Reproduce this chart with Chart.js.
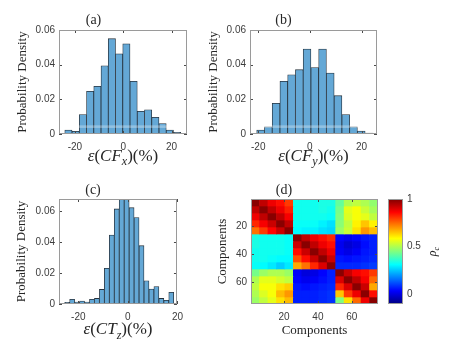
<!DOCTYPE html>
<html lang="en">
<head>
<meta charset="UTF-8">
<title>Error histograms and component correlation</title>
<script src="https://cdn.jsdelivr.net/npm/chart.js@4.4.1/dist/chart.umd.min.js"></script>
<style>
    body { margin: 0; background: #fff; }
    #wrap { position: relative; width: 458px; height: 352px; overflow: hidden; }
    canvas { position: absolute; }
</style>
</head>
<body>
<div id="wrap">
    <canvas id="chartA" width="190" height="170" style="left:0;top:0"></canvas>
    <canvas id="chartB" width="268" height="170" style="left:190px;top:0"></canvas>
    <canvas id="chartC" width="190" height="182" style="left:0;top:170px"></canvas>
    <canvas id="chartD" width="200" height="182" style="left:190px;top:170px"></canvas>
    <canvas id="chartBar" width="78" height="182" style="left:380px;top:170px"></canvas>
</div>
<script>
    // ---- data ----
    const binsA = [-22.7, -19.7, -16.7, -13.7, -10.7, -7.7, -4.7, -1.7, 1.3, 4.3, 7.3, 10.3, 13.3, 16.3, 19.3, 22.3];
    const densA = [0.0023, 0.0015, 0.0112, 0.0246, 0.0275, 0.0394, 0.0550, 0.0463, 0.0520, 0.0304, 0.0131, 0.0140, 0.0096, 0.0060, 0.0023, 0.0010];

    const binsB = [-19.1, -16.1, -13.1, -10.1, -7.1, -4.1, -1.1, 1.9, 4.9, 7.9, 10.9, 13.9, 16.9, 19.9, 22.9];
    const densB = [0.0023, 0.0042, 0.0177, 0.0304, 0.0342, 0.0371, 0.0490, 0.0383, 0.0490, 0.0352, 0.0221, 0.0112, 0.0042, 0.0017, 0.0006];

    const binsC = [-24.5, -22.5, -20.5, -18.5, -16.5, -14.5, -12.5, -10.5, -8.5, -6.5, -4.5, -2.5, -0.5, 1.5, 3.5, 5.5, 7.5, 9.5, 11.5, 13.5, 15.5, 17.5];
    const densC = [0.0011, 0.0030, 0.0013, 0.0019, 0.0013, 0.0030, 0.0036, 0.0094, 0.0230, 0.0445, 0.0613, 0.0673, 0.0677, 0.0621, 0.0557, 0.0376, 0.0150, 0.0097, 0.0112, 0.0036, 0.0024, 0.0075];

    const histXTicks = [-20, 0, 20];
    const histYTicks = [0, 0.02, 0.04, 0.06];

    // correlation map, averaged over 5x5 component blocks (75 components)
    const blockCenters = [3, 8, 13, 18, 23, 28, 33, 38, 43, 48, 53, 58, 63, 68, 73];
    const blockEdges = [0.5, 5.5, 10.5, 15.5, 20.5, 25.5, 30.5, 35.5, 40.5, 45.5, 50.5, 55.5, 60.5, 65.5, 70.5, 75.5];
    const corr = [
        [0.99, 0.93, 0.88, 0.85, 0.80, 0.33, 0.33, 0.33, 0.34, 0.34, 0.42, 0.50, 0.52, 0.50, 0.47],
        [0.93, 0.99, 0.93, 0.88, 0.83, 0.33, 0.33, 0.33, 0.34, 0.33, 0.44, 0.56, 0.58, 0.53, 0.49],
        [0.88, 0.93, 0.99, 0.93, 0.87, 0.33, 0.33, 0.33, 0.33, 0.32, 0.45, 0.55, 0.58, 0.56, 0.52],
        [0.82, 0.87, 0.92, 0.99, 0.93, 0.32, 0.32, 0.32, 0.30, 0.28, 0.46, 0.52, 0.60, 0.65, 0.60],
        [0.74, 0.80, 0.86, 0.92, 0.99, 0.31, 0.30, 0.30, 0.28, 0.27, 0.48, 0.53, 0.62, 0.70, 0.66],
        [0.34, 0.33, 0.33, 0.33, 0.32, 0.99, 0.93, 0.88, 0.85, 0.82, 0.04, 0.02, 0.04, 0.06, 0.07],
        [0.34, 0.33, 0.33, 0.33, 0.32, 0.92, 0.99, 0.93, 0.88, 0.85, 0.02, -0.01, 0.01, 0.05, 0.07],
        [0.33, 0.33, 0.33, 0.33, 0.32, 0.85, 0.92, 0.99, 0.93, 0.88, 0.03, 0.01, 0.03, 0.06, 0.07],
        [0.33, 0.33, 0.32, 0.31, 0.31, 0.78, 0.85, 0.92, 0.99, 0.92, 0.06, 0.05, 0.06, 0.07, 0.08],
        [0.32, 0.31, 0.29, 0.26, 0.29, 0.68, 0.74, 0.82, 0.90, 0.99, 0.08, 0.08, 0.08, 0.09, 0.10],
        [0.44, 0.48, 0.50, 0.50, 0.48, 0.03, 0.00, 0.01, 0.04, 0.07, 0.99, 0.92, 0.87, 0.85, 0.80],
        [0.50, 0.56, 0.56, 0.54, 0.52, 0.04, 0.02, 0.03, 0.05, 0.07, 0.90, 0.99, 0.93, 0.87, 0.75],
        [0.52, 0.58, 0.58, 0.62, 0.64, 0.06, 0.05, 0.06, 0.07, 0.08, 0.82, 0.90, 0.99, 0.92, 0.68],
        [0.50, 0.55, 0.58, 0.66, 0.70, 0.07, 0.07, 0.07, 0.08, 0.09, 0.65, 0.80, 0.88, 0.99, 0.85],
        [0.48, 0.52, 0.56, 0.62, 0.66, 0.07, 0.07, 0.07, 0.08, 0.09, 0.45, 0.62, 0.75, 0.88, 0.99]
    ];
    const mapTicks = [20, 40, 60];
    const cbTicks = [0, 0.5, 1];
    const cbMin = -0.1, cbMax = 1;

    // ---- look ----
    const serif = '"Liberation Serif", "Times New Roman", serif';
    const sans = '"Liberation Sans", Arial, sans-serif';
    const tickFont = { family: sans, size: 10 };
    const tickColor = '#3c3c3c';
    const textColor = '#262626';
    const barFill = 'rgb(100,168,214)';
    const barEdge = '#27323c';
    const noGrid = { display: false, drawTicks: false };

    function jet(t) {
        t = Math.max(0, Math.min(1, t));
        const c = v => Math.round(255 * Math.max(0, Math.min(1, v)));
        return `rgb(${c(1.5 - Math.abs(4 * t - 3))},${c(1.5 - Math.abs(4 * t - 2))},${c(1.5 - Math.abs(4 * t - 1))})`;
    }
    const rhoColor = v => jet((v - cbMin) / (cbMax - cbMin));

    // draws "ε(CF_x)(%)"-style labels with italic parts and a subscript
    function drawMath(ctx, parts, cx, cy, size, rot) {
        ctx.save();
        ctx.translate(cx, cy);
        if (rot) ctx.rotate(rot);
        ctx.textBaseline = 'middle';
        ctx.textAlign = 'left';
        ctx.fillStyle = textColor;
        const fontFor = s => (s === 'r' ? '' : 'italic ') + (s === 's' ? Math.round(size * 0.7) : size) + 'px ' + serif;
        let w = 0;
        parts.forEach(([t, s]) => { ctx.font = fontFor(s); w += ctx.measureText(t).width; });
        let x = -w / 2;
        parts.forEach(([t, s]) => {
            ctx.font = fontFor(s);
            ctx.fillText(t, x, s === 's' ? size * 0.32 : 0);
            x += ctx.measureText(t).width;
        });
        ctx.restore();
    }

    // MATLAB-like box with inward ticks, plus the math x label
    const boxPlugin = {
        id: 'box',
        afterDatasetsDraw(chart, args, opts) {
            const { ctx, chartArea: a, scales } = chart;
            ctx.save();
            if (opts.band) {
                const y1 = scales.y.getPixelForValue(opts.band[0]);
                const y2 = scales.y.getPixelForValue(opts.band[1]);
                ctx.fillStyle = 'rgba(255,255,255,0.3)';
                ctx.fillRect(a.left, y2, a.width, y1 - y2);
            }
            ctx.strokeStyle = '#4a4a4a';
            ctx.lineWidth = 1;
            if (opts.ticks !== false) {
                ctx.beginPath();
                if (scales.x && scales.x.options.display !== false) {
                    scales.x.ticks.forEach(t => {
                        const px = Math.round(scales.x.getPixelForValue(t.value)) + 0.5;
                        ctx.moveTo(px, a.bottom); ctx.lineTo(px, a.bottom - 3);
                        ctx.moveTo(px, a.top); ctx.lineTo(px, a.top + 3);
                    });
                }
                scales.y.ticks.forEach(t => {
                    const py = Math.round(scales.y.getPixelForValue(t.value)) + 0.5;
                    ctx.moveTo(a.left, py); ctx.lineTo(a.left + 3, py);
                    ctx.moveTo(a.right, py); ctx.lineTo(a.right - 3, py);
                });
                ctx.stroke();
            }
            ctx.strokeStyle = '#9a9a9a';
            ctx.strokeRect(Math.round(a.left) + 0.5, Math.round(a.top) + 0.5, Math.round(a.width) - 1, Math.round(a.height) - 1);
            ctx.restore();
            if (opts.xLabel) drawMath(ctx, opts.xLabel, (a.left + a.right) / 2, a.bottom + opts.xLabelGap, 17);
            if (opts.sideLabel) drawMath(ctx, opts.sideLabel, a.right + opts.sideGap, (a.top + a.bottom) / 2, 12, -Math.PI / 2);
        }
    };

    const fixTicks = list => scale => { scale.ticks = list.map(v => ({ value: v })); };

    function histChart(id, title, bins, dens, xMin, xMax, yMax, xLabel, g) {
        return new Chart(document.getElementById(id), {
            type: 'bar',
            data: {
                datasets: [{
                    data: bins.map((b, i) => ({ x: b, y: dens[i] })),
                    backgroundColor: barFill,
                    borderColor: barEdge,
                    borderWidth: 0.8,
                    borderSkipped: false,
                    barPercentage: 1,
                    categoryPercentage: 1
                }]
            },
            options: {
                responsive: false,
                animation: false,
                devicePixelRatio: 1,
                layout: { padding: g.pad },
                plugins: {
                    legend: { display: false },
                    tooltip: { enabled: false },
                    title: {
                        display: true, text: title, color: textColor,
                        font: { family: serif, size: 14, lineHeight: 1, weight: 'normal' },
                        padding: { top: g.titleTop, bottom: g.titleBottom }
                    },
                    box: { xLabel: xLabel, xLabelGap: g.xGap, band: g.band }
                },
                scales: {
                    x: {
                        type: 'linear', min: xMin, max: xMax, offset: false,
                        grid: noGrid, border: { display: false },
                        afterBuildTicks: fixTicks(histXTicks),
                        afterFit: s => { s.height = 22; },
                        ticks: { font: tickFont, color: tickColor, padding: 7, maxRotation: 0 }
                    },
                    y: {
                        min: 0, max: yMax,
                        grid: noGrid, border: { display: false },
                        afterBuildTicks: fixTicks(histYTicks),
                        afterFit: s => { s.width = g.yw; },
                        ticks: { font: tickFont, color: tickColor, padding: 4, callback: v => v === 0 ? '0' : v.toFixed(2) },
                        title: {
                            display: true, text: 'Probability Density', color: textColor,
                            font: { family: serif, size: 13 }, padding: { top: g.yPad, bottom: 0 }
                        }
                    }
                }
            },
            plugins: [boxPlugin]
        });
    }

    histChart('chartA', '(a)', binsA, densA, -26.6, 26.4, 0.06,
        [['ε', 'i'], ['(', 'r'], ['CF', 'i'], ['x', 's'], [')(%)', 'r']],
        { pad: { left: 0, top: 0, right: 3, bottom: 14 }, titleTop: 13, titleBottom: 3, yw: 59, yPad: 15, xGap: 22.5, band: [0.0035, 0.005] });

    histChart('chartB', '(b)', binsB, densB, -23.2, 26, 0.06,
        [['ε', 'i'], ['(', 'r'], ['CF', 'i'], ['y', 's'], [')(%)', 'r']],
        { pad: { left: 0, top: 0, right: 81, bottom: 14 }, titleTop: 13, titleBottom: 3, yw: 60, yPad: 16, xGap: 22.5, band: [0.0035, 0.005] });

    histChart('chartC', '(c)', binsC, densC, -27.8, 19.8, 0.0677,
        [['ε', 'i'], ['(', 'r'], ['CT', 'i'], ['z', 's'], [')(%)', 'r']],
        { pad: { left: 0, top: 0, right: 4, bottom: 26 }, titleTop: 13, titleBottom: 2, yw: 59, yPad: 14, xGap: 26 });

    // correlation map: one floating-bar dataset per block row
    const mapSets = corr.map((row, r) => ({
        data: row.map((v, c) => ({ x: blockCenters[c], y: [blockEdges[r], blockEdges[r + 1]] })),
        backgroundColor: row.map(rhoColor),
        borderWidth: 0,
        grouped: false,
        barPercentage: 1,
        categoryPercentage: 1
    }));

    new Chart(document.getElementById('chartD'), {
        type: 'bar',
        data: { datasets: mapSets },
        options: {
            responsive: false,
            animation: false,
            devicePixelRatio: 1,
            layout: { padding: { left: 0, top: 0, right: 12, bottom: 8 } },
            plugins: {
                legend: { display: false },
                tooltip: { enabled: false },
                title: {
                    display: true, text: '(d)', color: textColor,
                    font: { family: serif, size: 14, lineHeight: 1, weight: 'normal' },
                    padding: { top: 13, bottom: 2 }
                },
                box: {}
            },
            scales: {
                x: {
                    type: 'linear', min: 0.5, max: 75.5, offset: false,
                    grid: noGrid, border: { display: false },
                    afterBuildTicks: fixTicks(mapTicks),
                    afterFit: s => { s.height = 40; },
                    ticks: { font: tickFont, color: tickColor, padding: 7, maxRotation: 0 },
                    title: {
                        display: true, text: 'Components', color: textColor,
                        font: { family: serif, size: 13 }, padding: { top: 0, bottom: 6 }
                    }
                },
                y: {
                    type: 'linear', min: 0.5, max: 75.5, reverse: true,
                    grid: noGrid, border: { display: false },
                    afterBuildTicks: fixTicks(mapTicks),
                    afterFit: s => { s.width = 61; },
                    ticks: { font: tickFont, color: tickColor, padding: 4 },
                    title: {
                        display: true, text: 'Components', color: textColor,
                        font: { family: serif, size: 13 }, padding: { top: 25, bottom: 0 }
                    }
                }
            }
        },
        plugins: [boxPlugin]
    });

    // colour bar
    new Chart(document.getElementById('chartBar'), {
        type: 'bar',
        data: {
            labels: ['rho'],
            datasets: [{
                data: [[cbMin, cbMax]],
                borderWidth: 0,
                barPercentage: 1,
                categoryPercentage: 1,
                backgroundColor: c => {
                    const chart = c.chart;
                    if (!chart.chartArea) return null;
                    const y = chart.scales.y;
                    const grad = chart.ctx.createLinearGradient(0, y.getPixelForValue(cbMin), 0, y.getPixelForValue(cbMax));
                    for (let k = 0; k <= 64; k++) grad.addColorStop(k / 64, jet(k / 64));
                    return grad;
                }
            }]
        },
        options: {
            responsive: false,
            animation: false,
            devicePixelRatio: 1,
            layout: { padding: { left: 8, top: 29, right: 0, bottom: 48 } },
            plugins: {
                legend: { display: false },
                tooltip: { enabled: false },
                box: { ticks: false, sideLabel: [['ρ', 'i'], ['c', 's']], sideGap: 30 }
            },
            scales: {
                x: { display: false },
                y: {
                    position: 'right', min: cbMin, max: cbMax,
                    grid: noGrid, border: { display: false },
                    afterBuildTicks: fixTicks(cbTicks),
                    afterFit: s => { s.width = 55; },
                    ticks: { font: tickFont, color: tickColor, padding: 4, callback: v => String(v) }
                }
            }
        },
        plugins: [boxPlugin]
    });
</script>
</body>
</html>
